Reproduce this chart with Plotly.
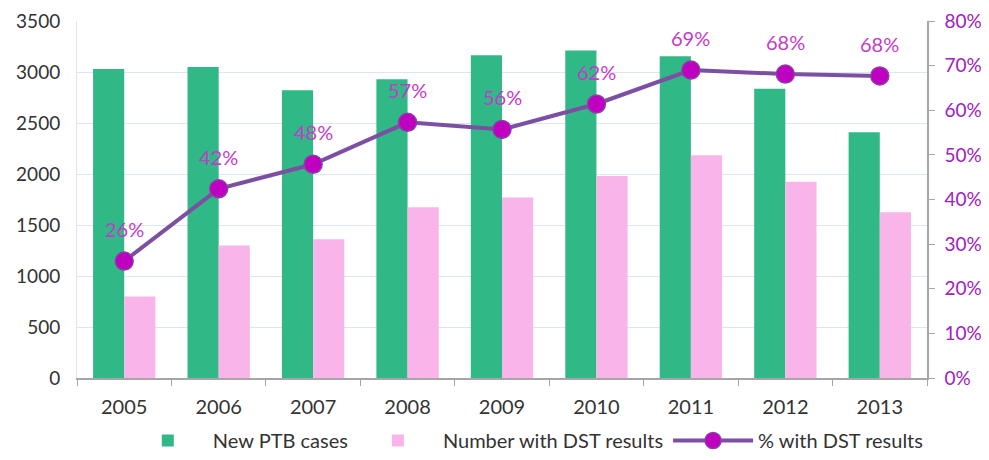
import plotly.graph_objects as go

years = ["2005", "2006", "2007", "2008", "2009", "2010", "2011", "2012", "2013"]
new_ptb = [3030, 3050, 2820, 2930, 3165, 3210, 3155, 2835, 2410]
with_dst = [800, 1300, 1360, 1675, 1770, 1980, 2185, 1925, 1625]
pct_dst = [26.2, 42.4, 47.9, 57.3, 55.7, 61.4, 69.0, 68.1, 67.7]
pct_labels = ["26%", "42%", "48%", "57%", "56%", "62%", "69%", "68%", "68%"]

FONT = "Lato, 'Open Sans', sans-serif"

fig = go.Figure()
fig.add_trace(go.Bar(x=years, y=new_ptb, name="New PTB cases",
                     marker=dict(color="#31B887", line=dict(width=0))))
fig.add_trace(go.Bar(x=years, y=with_dst, name="Number with DST results",
                     marker=dict(color="#F9B5E9", line=dict(width=0))))
fig.add_trace(go.Scatter(x=years, y=pct_dst, name="% with DST results", yaxis="y2",
                         mode="lines+markers",
                         line=dict(color="#7C4FA3", width=4),
                         marker=dict(color="#C000C0", size=18,
                                     line=dict(color="#8A3FA8", width=1.5))))

for i, (v, lab) in enumerate(zip(pct_dst, pct_labels)):
    fig.add_annotation(x=i, y=v, xref="x", yref="y2", text=lab, showarrow=False,
                       yshift=32, font=dict(color="#C43BC8", size=20, family=FONT))

fig.update_layout(
    width=973, height=452,
    margin=dict(l=69, r=54, t=13, b=82, autoexpand=False),
    paper_bgcolor="white", plot_bgcolor="white",
    font=dict(family=FONT, size=19, color="#333333"),
    barmode="group", bargap=0.34, bargroupgap=0,
    showlegend=True,
    legend=dict(orientation="h", x=0.528, xanchor="center", yref="container",
                y=0.0, yanchor="bottom",
                font=dict(size=20, color="#333333"), traceorder="normal",
                itemwidth=80),
    xaxis=dict(type="category", range=[-0.5, 8.5], showgrid=False, showline=True,
               linecolor="#A6A6A6", linewidth=1.5, ticks="outside",
               tickson="boundaries", ticklen=6, tickcolor="#A6A6A6",
               ticklabelstandoff=10,
               automargin=False, tickfont=dict(size=20, color="#333333")),
    yaxis=dict(range=[0, 3500], dtick=500, showgrid=True, gridcolor="#DCE6F2",
               gridwidth=1, showline=True, linecolor="#DCE6F2", zeroline=False,
               ticks="", ticklabelstandoff=12, ticklabeloverflow="allow",
               automargin=False, tickfont=dict(size=19, color="#333333")),
    yaxis2=dict(range=[0, 80], dtick=10, overlaying="y", side="right",
                ticksuffix="%", showgrid=False, showline=True, linecolor="#A6A6A6",
                linewidth=1.5, ticks="outside", ticklen=6, tickcolor="#A6A6A6",
                zeroline=False, automargin=False, ticklabelstandoff=6,
                ticklabeloverflow="allow",
                tickfont=dict(size=19, color="#A020C0")),
)

fig.write_html("out.html")
